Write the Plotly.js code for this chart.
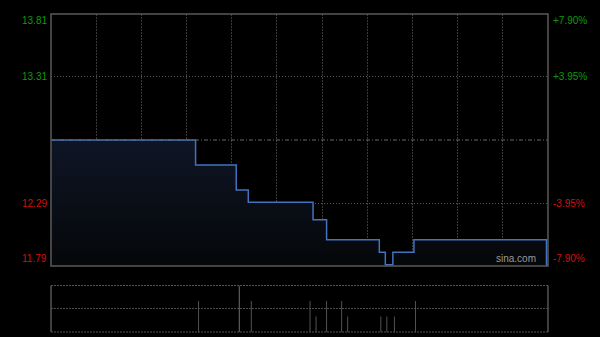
<!DOCTYPE html>
<html><head><meta charset="utf-8">
<script src="https://cdn.plot.ly/plotly-3.0.1.min.js"></script>
<style>html,body{margin:0;padding:0;background:#000;}#chart{width:600px;height:337px;}</style>
</head><body><div id="chart"></div>
<script>
// Minutes since open (HK session, 330 trading minutes)
const priceTimes = [0, 96, 123, 131, 174, 183, 218, 222, 227, 241, 329, 330];
const prices     = [12.80, 12.60, 12.40, 12.30, 12.16, 12.00, 11.90, 11.80, 11.90, 12.00, 11.80, 11.80];
const prevClose = 12.80;
const volTimes = [98, 125, 133, 172, 176, 183, 193, 197, 219, 223, 228, 242];
const volumes  = [2000, 3000, 2000, 2000, 1000, 2000, 2000, 1000, 1000, 1000, 1000, 2000];
const priceTicks = [13.81, 13.31, 12.29, 11.79];
const priceTickLabels = ["13.81", "13.31", "12.29", "11.79"];
const pctTickLabels = ["+7.90%", "+3.95%", "-3.95%", "-7.90%"];
const timeGrid = [30, 60, 90, 120, 150, 180, 210, 240, 270, 300];

const GREEN = '#0c9a0c', RED = '#d21010';
const yMin = 11.79, yMax = 13.81;

const traces = [
  {
    x: priceTimes, y: prices, type: 'scatter', mode: 'lines',
    line: {color: '#4272c0', width: 1.5, shape: 'hv'},
    fill: 'tozeroy',
    fillgradient: {type: 'vertical', start: yMin, stop: prevClose,
      colorscale: [[0, '#050709'], [1, '#0e1525']]},
    xaxis: 'x', yaxis: 'y', hoverinfo: 'skip'
  },
  {
    x: volTimes, y: volumes, type: 'bar', width: 0.6,
    marker: {color: volumes.map(v => v >= 3000 ? '#7a7a7a' : '#5a5a5a'), line: {width: 0}},
    xaxis: 'x2', yaxis: 'y2', hoverinfo: 'skip'
  }
];

const annotations = [];
priceTicks.forEach((v, i) => {
  const anchor = i === 0 ? 'top' : (i === priceTicks.length - 1 ? 'bottom' : 'middle');
  const col = v > prevClose ? GREEN : RED;
  const ys = i === 0 ? 1 : 0;
  annotations.push({xref: 'paper', yref: 'y', x: 0.081, y: v, text: priceTickLabels[i],
    showarrow: false, xanchor: 'right', yanchor: anchor, yshift: ys,
    font: {family: 'Liberation Sans, Arial, sans-serif', size: 10, color: col}});
  annotations.push({xref: 'paper', yref: 'y', x: 0.919, y: v, text: pctTickLabels[i],
    showarrow: false, xanchor: 'left', yanchor: anchor, yshift: ys,
    font: {family: 'Liberation Sans, Arial, sans-serif', size: 10, color: col}});
});
annotations.push({xref: 'paper', yref: 'y', x: 0.897, y: yMin, text: 'sina.com',
  showarrow: false, xanchor: 'right', yanchor: 'bottom',
  font: {family: 'Liberation Sans, Arial, sans-serif', size: 10, color: '#9a9a9a'}});

const shapes = [
  {type: 'line', xref: 'x domain', yref: 'y', x0: 0, x1: 1, y0: prevClose, y1: prevClose,
   line: {color: '#6a6a6a', width: 1, dash: '4px,2px,1px,2px'}},
  {type: 'rect', xref: 'x domain', yref: 'y domain', x0: 0, x1: 1, y0: 0, y1: 1,
   line: {color: '#5a5a5a', width: 1.5}},
  {type: 'line', xref: 'x2 domain', yref: 'y2 domain', x0: 0, x1: 0, y0: 0, y1: 1,
   line: {color: '#555', width: 1.5}},
  {type: 'line', xref: 'x2 domain', yref: 'y2 domain', x0: 1, x1: 1, y0: 0, y1: 1,
   line: {color: '#555', width: 1.5}},
  {type: 'line', xref: 'x2 domain', yref: 'y2 domain', x0: 0, x1: 1, y0: 1, y1: 1,
   line: {color: '#555', width: 1, dash: '2px,1px'}},
  {type: 'line', xref: 'x2 domain', yref: 'y2 domain', x0: 0, x1: 1, y0: 0, y1: 0,
   line: {color: '#555', width: 1, dash: '2px,1px'}}
];

const layout = {
  width: 600, height: 337,
  margin: {l: 0, r: 0, t: 0, b: 0},
  paper_bgcolor: '#000', plot_bgcolor: '#000',
  showlegend: false,
  xaxis: {domain: [0.085, 0.9133], range: [0, 330], anchor: 'y',
    tickvals: timeGrid, showticklabels: false, ticks: '',
    showgrid: true, gridcolor: '#3a3a3a', griddash: '2px,1px', gridwidth: 1, zeroline: false, fixedrange: true},
  yaxis: {domain: [0.2107, 0.9585], range: [yMin, yMax], anchor: 'x',
    tickvals: [priceTicks[1], priceTicks[2]], showticklabels: false, ticks: '',
    showgrid: true, gridcolor: '#5a5a5a', griddash: '1px,2px', zeroline: false},
  xaxis2: {domain: [0.085, 0.9133], range: [0, 330], anchor: 'y2',
    showgrid: false, showticklabels: false, ticks: '', zeroline: false},
  yaxis2: {domain: [0.0148, 0.1528], range: [0, 3000], anchor: 'x2',
    tickvals: [1500], showticklabels: false, ticks: '',
    showgrid: true, gridcolor: '#4a4a4a', griddash: '2px,1px', zeroline: false},
  shapes: shapes,
  annotations: annotations
};

Plotly.newPlot('chart', traces, layout, {staticPlot: true, displayModeBar: false});
</script>
</body></html>
